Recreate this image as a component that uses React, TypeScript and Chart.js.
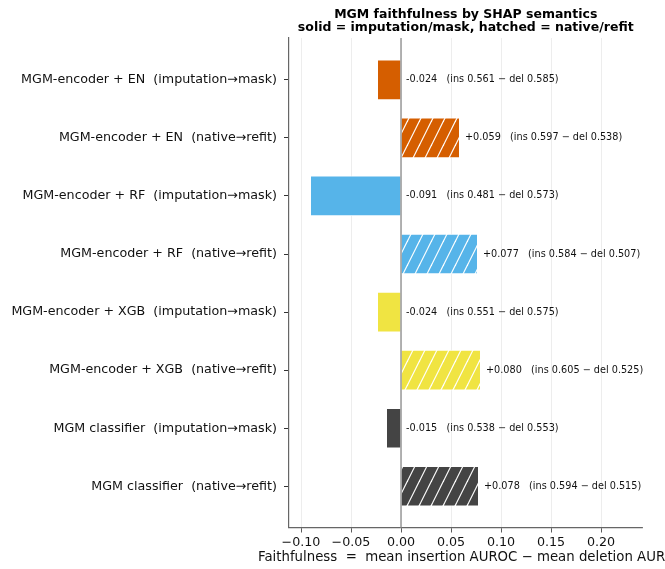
import React, { useEffect, useRef } from 'react';
import { Chart, registerables } from 'chart.js';

Chart.register(...registerables);

const categories = [
  'MGM-encoder + EN  (imputation→mask)',
  'MGM-encoder + EN  (native→refit)',
  'MGM-encoder + RF  (imputation→mask)',
  'MGM-encoder + RF  (native→refit)',
  'MGM-encoder + XGB  (imputation→mask)',
  'MGM-encoder + XGB  (native→refit)',
  'MGM classifier  (imputation→mask)',
  'MGM classifier  (native→refit)',
];
const values = [-0.024, 0.059, -0.091, 0.077, -0.024, 0.08, -0.015, 0.078];
const insValues = [0.561, 0.597, 0.481, 0.584, 0.551, 0.605, 0.538, 0.594];
const delValues = [0.585, 0.538, 0.573, 0.507, 0.575, 0.525, 0.553, 0.515];
const hatched = [false, true, false, true, false, true, false, true];
const barColors = ['#D55E00', '#D55E00', '#56B4E9', '#56B4E9', '#F0E442', '#F0E442', '#444444', '#444444'];
const xTicks = [-0.1, -0.05, 0, 0.05, 0.1, 0.15, 0.2];
const titleLines = ['MGM faithfulness by SHAP semantics', 'solid = imputation/mask, hatched = native/refit'];
const xTitle = 'Faithfulness  =  mean insertion AUROC − mean deletion AUROC';

const FONT = "'DejaVu Sans', sans-serif";

function makeHatch(color: string): CanvasPattern | string {
  const w = 12;
  const h = 24;
  const c = document.createElement('canvas');
  c.width = w;
  c.height = h;
  const g = c.getContext('2d');
  if (!g) return color;
  g.fillStyle = color;
  g.fillRect(0, 0, w, h);
  g.strokeStyle = '#ffffff';
  g.lineWidth = 1.2;
  for (const k of [-2, -1, 0, 1, 2]) {
    g.beginPath();
    g.moveTo(k * w - w, 2 * h);
    g.lineTo(k * w + 2 * w, -h);
    g.stroke();
  }
  return g.createPattern(c, 'repeat') || color;
}

function fmtTick(v: number): string {
  if (Math.abs(v) < 1e-9) return '0.00';
  return (v < 0 ? '−' : '') + Math.abs(v).toFixed(2);
}

function annotation(i: number): string {
  const v = values[i];
  return `${v < 0 ? '-' : '+'}${Math.abs(v).toFixed(3)}   (ins ${insValues[i].toFixed(3)} − del ${delValues[i].toFixed(3)})`;
}

export default function App() {
  const ref = useRef<HTMLCanvasElement | null>(null);

  useEffect(() => {
    if (!ref.current) return;
    const bg = values.map((_, i) => (hatched[i] ? makeHatch(barColors[i]) : barColors[i]));

    const overlay = {
      id: 'overlay',
      afterDatasetsDraw(chart: any) {
        const ctx = chart.ctx;
        const xs = chart.scales.x;
        const ys = chart.scales.y;
        const area = chart.chartArea;
        ctx.save();
        const x0 = xs.getPixelForValue(0);
        ctx.strokeStyle = '#9a9a9a';
        ctx.lineWidth = 1.5;
        ctx.beginPath();
        ctx.moveTo(x0, area.top);
        ctx.lineTo(x0, area.bottom);
        ctx.stroke();
        ctx.fillStyle = '#111';
        ctx.font = `9.7px ${FONT}`;
        ctx.textAlign = 'left';
        ctx.textBaseline = 'middle';
        values.forEach((v, i) => {
          const px = xs.getPixelForValue(Math.max(v, 0) + 0.005);
          const py = ys.getPixelForValue(i);
          ctx.fillText(annotation(i), px, py);
        });
        ctx.restore();
      },
      afterDraw(chart: any) {
        const ctx = chart.ctx;
        const area = chart.chartArea;
        const cx = (area.left + area.right) / 2;
        ctx.save();
        ctx.fillStyle = '#000';
        ctx.font = `bold 12.5px ${FONT}`;
        ctx.textAlign = 'center';
        ctx.textBaseline = 'middle';
        ctx.fillText(titleLines[0], cx, 15);
        ctx.fillText(titleLines[1], cx, 28);
        ctx.font = `13.3px ${FONT}`;
        ctx.textAlign = 'left';
        ctx.fillStyle = '#111';
        ctx.fillText(xTitle, 258, 558);
        ctx.restore();
      },
    };

    const chart = new Chart(ref.current, {
      type: 'bar',
      data: {
        datasets: [
          {
            data: values.map((v, i) => ({ x: v, y: i })) as any,
            backgroundColor: bg as any,
            borderColor: '#ffffff',
            borderWidth: 1,
            barPercentage: 0.7,
            categoryPercentage: 1,
          },
        ],
      },
      options: {
        indexAxis: 'y',
        responsive: false,
        animation: false,
        layout: { padding: { top: 38, right: 22.5, bottom: 0, left: 0 } },
        plugins: {
          legend: { display: false },
          tooltip: { enabled: false },
          title: { display: false },
        },
        scales: {
          x: {
            type: 'linear',
            min: -0.112,
            max: 0.2415,
            afterBuildTicks: (s: any) => {
              s.ticks = xTicks.map((v) => ({ value: v }));
            },
            afterFit: (s: any) => {
              s.height = 41.5;
            },
            ticks: {
              callback: (v: any) => fmtTick(Number(v)),
              font: { family: FONT, size: 12.7 },
              color: '#111',
              padding: 3,
              maxRotation: 0,
              autoSkip: false,
            },
            grid: { color: '#e8e8e8', lineWidth: 0.8, tickColor: '#333', tickLength: 5 },
            border: { color: '#666', width: 1.2 },
            title: { display: false },
          },
          y: {
            type: 'linear',
            reverse: true,
            offset: false,
            min: -0.72,
            max: 7.71,
            afterBuildTicks: (s: any) => {
              s.ticks = categories.map((_, i) => ({ value: i }));
            },
            afterFit: (s: any) => {
              s.width = 289;
            },
            ticks: {
              callback: (v: any) => categories[Number(v)] ?? '',
              font: { family: FONT, size: 12.7 },
              color: '#111',
              padding: 7,
              autoSkip: false,
            },
            grid: { offset: false, drawOnChartArea: false, tickColor: '#333', tickLength: 5 },
            border: { color: '#666', width: 1.2 },
          },
        },
      } as any,
      plugins: [overlay],
    });
    return () => chart.destroy();
  }, []);

  return (
    <div style={{ position: 'fixed', left: 0, top: 0, width: 665, height: 569, background: '#fff' }}>
      <canvas ref={ref} width={665} height={569} style={{ width: 665, height: 569, display: 'block' }} />
    </div>
  );
}
